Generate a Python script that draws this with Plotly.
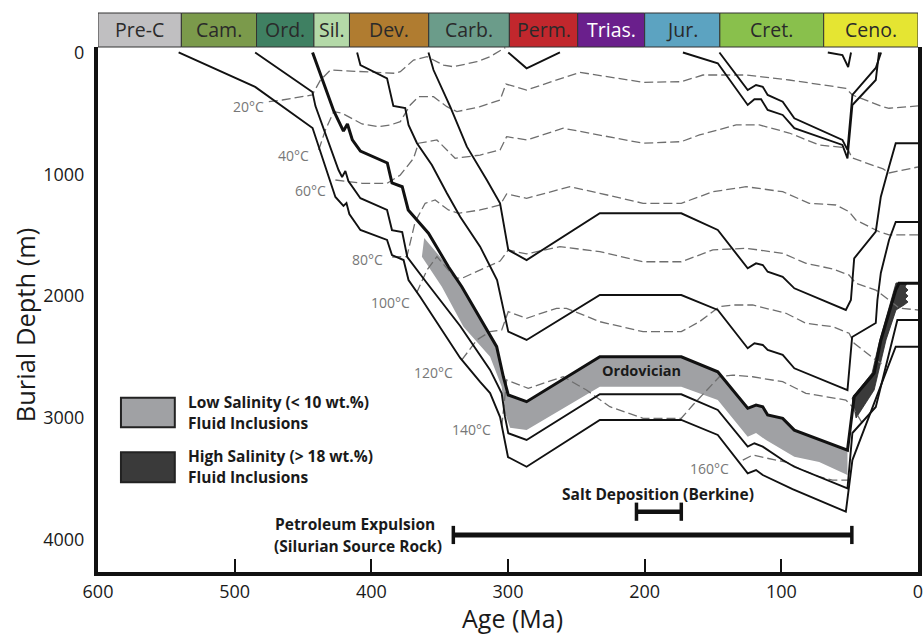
import plotly.graph_objects as go

# ---------------- Data ----------------
PERIOD_NAMES = ["Pre-C", "Cam.", "Ord.", "Sil.", "Dev.", "Carb.", "Perm.", "Trias.", "Jur.", "Cret.", "Ceno."]
PERIOD_BOUNDS = [600, 539, 484, 442, 416, 358, 299, 249, 200, 145, 69, 0]
PERIOD_COLORS = ["#c0bfc1", "#7b9a4b", "#3f8062", "#b4d9a8", "#b07c30", "#6b9c8a",
                 "#c1272d", "#6a1f8c", "#5ca3c1", "#89c04c", "#e5e532"]
PERIOD_TEXT_COLORS = ["#2a2a2a"] * 7 + ["#ffffff"] + ["#2a2a2a"] * 3

X_TICKS = [600, 500, 400, 300, 200, 100, 0]
Y_TICKS = [0, 1000, 2000, 3000, 4000]

# Burial curves (age Ma, depth m)
CAMB_AGE = [541, 485, 443, 426.3, 420.4, 418.2, 416.1, 408, 388.5, 384.9, 376.4, 372.8, 364.2, 352, 348.4,
            335, 320.4, 313.1, 305.8, 302.9, 300, 286.4, 232.8, 173.2, 146.5, 124.6, 118.5, 113.6, 91.8,
            52.8, 48, 16.3, 0]
CAMB_DEPTH = [0, 283, 620, 1186, 1260, 1236, 1326, 1457, 1539, 1663, 1704, 1868, 2007, 2221, 2278,
              2508, 2705, 2796, 2993, 3157, 3321, 3401, 3017, 3017, 3140, 3455, 3428, 3469, 3584,
              3770, 3346, 2416, 2416]

ORDB_AGE = [485, 443.1, 440.9, 424, 421.4, 419, 416.8, 408, 388.5, 384.9, 377.4, 373.7, 359.9, 335,
            313.1, 304.6, 302.2, 299.8, 286.4, 232.8, 173.2, 146.5, 124.6, 119.7, 113.6, 99, 90.5,
            51.6, 48, 30.9, 15.1, 0]
ORDB_DEPTH = [0, 324, 440, 965, 1022, 973, 1055, 1196, 1293, 1458, 1474, 1679, 1884, 2245,
              2606, 2798, 2990, 3126, 3181, 2806, 2806, 2935, 3236, 3208, 3236, 3346, 3401,
              3578, 3124, 2910, 2196, 2196]

ORDT_AGE = [443, 427.5, 420.4, 417.5, 413.9, 408, 388.3, 384.9, 377.4, 373, 358.2, 343.6, 333.8,
            314.4, 308.3, 303.4, 299.8, 286.4, 232.8, 173.2, 146.5, 124.6, 118.5, 113.6, 110, 99,
            90.5, 51.6, 46.7, 32.1, 27.2, 16.3, 13.9, 0]
ORDT_DEPTH = [0, 480, 645, 587, 718, 809, 907, 1071, 1102, 1293, 1484, 1759, 1923,
              2306, 2415, 2662, 2812, 2867, 2498, 2498, 2621, 2921, 2894, 2908, 2976, 3004,
              3100, 3264, 2826, 2634, 2362, 1950, 1895, 1895]

DEV_AGE = [410.4, 408, 388.5, 383.9, 375.2, 372.8, 366.6, 355.7, 344.7, 335, 320.4, 308, 299.8,
           286.4, 232.8, 173.2, 146.5, 124.6, 119.7, 113.6, 110, 99, 90.5, 51.6, 48.2, 30.9, 29.7,
           27.2, 21.2, 16.3, 0]
DEV_DEPTH = [0, 103, 212, 439, 456, 595, 745, 924, 1156, 1348, 1594, 1868, 2292,
             2360, 1991, 1991, 2114, 2428, 2387, 2401, 2442, 2483, 2593, 2771, 2336, 2221, 2032,
             1810, 1539, 1392, 1392]

CARB_AGE = [358.2, 354.5, 342.3, 330.1, 315.5, 305.8, 299.8, 286.4, 232.8, 173.2, 146.5, 124.6,
            118.5, 113.6, 110, 99, 90.5, 52.8, 49.1, 46.7, 30.9, 27.2, 21.2, 16.3, 0]
CARB_DEPTH = [0, 144, 445, 773, 1047, 1238, 1621, 1704, 1320, 1320, 1457, 1772,
              1731, 1745, 1800, 1841, 1936, 2114, 2032, 1690, 1471, 1184, 938, 745, 745]

PERM_AGE = [299.8, 286.4, 262]
PERM_DEPTH = [0, 130, 0]

JUR_AGE = [172, 146.5, 124.6, 119.7, 114.8, 110, 99, 90.5, 55.3, 51.6, 48, 30.9, 28.5]
JUR_DEPTH = [0, 89, 431, 384, 384, 472, 513, 622, 759, 869, 431, 226, 0]

CRET_AGE = [145.3, 124.6, 118.5, 113.6, 110, 99, 90.5, 55.3, 51.6, 48, 30.9, 27]
CRET_DEPTH = [0, 308, 267, 281, 349, 404, 540, 718, 800, 349, 127, 0]

CENO_AGE = [66, 55.3, 51.1, 49]
CENO_DEPTH = [0, 21, 119, 0]

# Isotherms
ISO_20_AGE = [475, 465.2, 443.3, 437.2, 429.9, 406.8, 382.5, 378.8, 369.1, 359.3, 347.2, 339.9, 322.8, 313.1, 302]
ISO_20_DEPTH = [404, 390, 349, 226, 144, 158, 171, 158, 62, 34, 103, 117, 76, 34, -40]

ISO_40_AGE = [438.5, 433.6, 427.5, 421.4, 406.8, 394.7, 386.1, 378.8, 371.5, 365.5, 354.5, 344.7, 337.4,
              320.4, 305.8, 301.5, 286.4, 247.4, 201.2, 173.2, 157.4, 125.8, 94.2, 52.8, 48, 26.1, 21.2, 0]
ISO_40_DEPTH = [800, 636, 486, 499, 587, 609, 595, 568, 431, 363, 363, 445, 486,
                445, 390, 259, 308, 163, 245, 240, 185, 185, 226, 294, 349, 445, 458, 439]

ISO_60_AGE = [426.3, 416.6, 406.8, 388.5, 378.8, 369.1, 365.5, 352, 344.7, 338.7, 320.4, 305.8, 301,
              286.4, 259.6, 232.8, 201.2, 173.2, 159.9, 133.1, 116.1, 94.2, 72.3, 51.8, 48.2, 25.5, 21.2, 0]
ISO_60_DEPTH = [1047, 1061, 1074, 1074, 1006, 869, 745, 718, 800, 869, 842, 800, 691,
                718, 622, 677, 745, 732, 677, 595, 595, 661, 759, 784, 866, 956, 989, 940]

ISO_80_AGE = [384.7, 374, 367.9, 360.6, 353.3, 343.6, 336.3, 320.4, 305.8, 301, 286.4, 254.7, 232.8,
              201.2, 173.2, 150.1, 125.8, 99, 79.6, 60.1, 50.4, 45.5, 28.5, 21.2, 0]
ISO_80_DEPTH = [1679, 1676, 1389, 1238, 1211, 1293, 1320, 1293, 1252, 1162, 1197, 1102, 1156,
                1238, 1238, 1143, 1102, 1143, 1238, 1252, 1307, 1375, 1471, 1498, 1498]

ISO_100_AGE = [366.9, 359.3, 352, 338.7, 333.8, 320.4, 305.8, 299.8, 286.4, 262, 232.8, 201.2, 173.2,
               150.1, 125.8, 99, 81.9, 62.5, 50.4, 45.5, 30.9, 21.2, 13.9, 0]
ISO_100_DEPTH = [1974, 1786, 1676, 1851, 1854, 1786, 1712, 1622, 1654, 1594, 1635, 1718, 1718,
                 1621, 1607, 1649, 1731, 1777, 1827, 1895, 1950, 2032, 2098, 2114]

ISO_120_AGE = [333.8, 322.8, 313.1, 304.6, 299.8, 286.4, 264.5, 257.2, 232.8, 201.2, 173.2, 159.9,
               145.3, 135.5, 121, 96.6, 82, 62.5, 50.4, 46.7, 30.9, 22.6]
ISO_120_DEPTH = [2524, 2360, 2292, 2278, 2128, 2182, 2100, 2100, 2210, 2292, 2292, 2210,
                 2087, 2073, 2073, 2141, 2223, 2251, 2305, 2387, 2525, 2582]

ISO_140_AGE = [304.6, 301, 285.2, 259.6, 242.6, 225.5, 201.2, 173.2, 164.7, 145.3, 135.5, 121, 99,
               82, 52.8, 48, 38.7]
ISO_140_DEPTH = [3072, 2689, 2757, 2662, 2771, 2908, 3003, 3003, 2894, 2662, 2648, 2662, 2703,
                 2798, 2853, 2908, 3083]

ISO_160_AGE = [128.2, 120.9, 111.2, 96.6, 84.5, 72.3, 62.6, 49.9]
ISO_160_DEPTH = [3346, 3305, 3329, 3362, 3428, 3483, 3510, 3510]

ISO_LABELS = ["20°C", "40°C", "60°C", "80°C", "100°C", "120°C", "140°C", "160°C"]
ISO_LABEL_AGE = [489.6, 456.7, 444.5, 403.1, 386.1, 354.5, 326.5, 152.6]
ISO_LABEL_DEPTH = [445, 842, 1135, 1698, 2054, 2629, 3099, 3414]

# Fluid-inclusion bands
LOW_SAL_TOP_AGE = [361.3, 343.6, 333.8, 314.4, 308.3, 303.4, 299.8, 286.4, 232.8, 173.2, 146.5, 124.6,
                   118.5, 113.6, 110, 99, 90.5, 51.6]
LOW_SAL_TOP_DEPTH = [1523, 1759, 1923, 2306, 2415, 2662, 2812, 2867, 2498, 2498, 2621, 2921,
                     2894, 2908, 2976, 3004, 3100, 3264]
LOW_SAL_BOT_AGE = [363, 348.4, 332.6, 313.1, 304.6, 302.2, 298.5, 286.4, 232.8, 173.2, 146.5, 124.6,
                   118.5, 111.2, 90.5, 72.3, 51.6]
LOW_SAL_BOT_DEPTH = [1676, 1923, 2251, 2497, 2744, 2960, 3080, 3099, 2744, 2744, 2853, 3154,
                     3124, 3182, 3319, 3362, 3469]

HIGH_SAL_AGE = [48.2, 33.6, 28.5, 17.5, 16.1, 8, 9.5, 7.3, 9.5, 7.3, 9.5, 7.3, 10.2, 16.1, 23.4, 32.1, 41.6, 45.3]
HIGH_SAL_DEPTH = [2837, 2631, 2385, 1950, 1892, 1892, 1925, 1950, 1974, 1999, 2024, 2048, 2073, 2114,
                  2360, 2771, 2935, 3001]

# Event bars
EXPULSION_AGE = [340, 48.4]
EXPULSION_DEPTH = [3961, 3961]
SALT_AGE = [206, 173.2]
SALT_DEPTH = [3770, 3770]

FONT = "Open Sans, Noto Sans, sans-serif"

fig = go.Figure()

# Low-salinity band
fig.add_trace(go.Scatter(
    x=LOW_SAL_TOP_AGE + LOW_SAL_BOT_AGE[::-1],
    y=LOW_SAL_TOP_DEPTH + LOW_SAL_BOT_DEPTH[::-1],
    fill="toself", fillcolor="#a0a1a4", mode="lines", line=dict(width=0),
    hoverinfo="skip", showlegend=False))
# High-salinity band
fig.add_trace(go.Scatter(
    x=HIGH_SAL_AGE + HIGH_SAL_AGE[:1], y=HIGH_SAL_DEPTH + HIGH_SAL_DEPTH[:1],
    fill="toself", fillcolor="#3a3a3a", mode="lines", line=dict(width=0.8, color="#2a2a2a"),
    hoverinfo="skip", showlegend=False))

# Isotherms
isotherms = [(ISO_20_AGE, ISO_20_DEPTH), (ISO_40_AGE, ISO_40_DEPTH), (ISO_60_AGE, ISO_60_DEPTH),
             (ISO_80_AGE, ISO_80_DEPTH), (ISO_100_AGE, ISO_100_DEPTH), (ISO_120_AGE, ISO_120_DEPTH),
             (ISO_140_AGE, ISO_140_DEPTH), (ISO_160_AGE, ISO_160_DEPTH)]
for ax, dy in isotherms:
    fig.add_trace(go.Scatter(x=ax, y=dy, mode="lines",
                             line=dict(color="#6e6e6e", width=1.3, dash="9px,4px"),
                             hoverinfo="skip", showlegend=False))

# Burial curves
curves = [(CAMB_AGE, CAMB_DEPTH, 1.9), (ORDB_AGE, ORDB_DEPTH, 1.9), (DEV_AGE, DEV_DEPTH, 1.9),
          (CARB_AGE, CARB_DEPTH, 1.9), (PERM_AGE, PERM_DEPTH, 1.9), (JUR_AGE, JUR_DEPTH, 1.9),
          (CRET_AGE, CRET_DEPTH, 1.9), (CENO_AGE, CENO_DEPTH, 1.9), (ORDT_AGE, ORDT_DEPTH, 3.0)]
for ax, dy, w in curves:
    fig.add_trace(go.Scatter(x=ax, y=dy, mode="lines", line=dict(color="#111111", width=w),
                             hoverinfo="skip", showlegend=False))

# Event bars
for ax, dy, w in [(EXPULSION_AGE, EXPULSION_DEPTH, 5), (SALT_AGE, SALT_DEPTH, 4.5)]:
    fig.add_trace(go.Scatter(x=ax, y=dy, mode="lines+markers",
                             line=dict(color="#111111", width=w),
                             marker=dict(symbol="line-ns-open", size=13,
                                         line=dict(color="#111111", width=3.5)),
                             hoverinfo="skip", showlegend=False))

shapes = []
annotations = []
# Period bar
bar_top = 1 + 34 / 525
for i, name in enumerate(PERIOD_NAMES):
    x0, x1 = PERIOD_BOUNDS[i], PERIOD_BOUNDS[i + 1]
    shapes.append(dict(type="rect", xref="x", yref="paper", x0=x0, x1=x1, y0=1, y1=bar_top,
                       fillcolor=PERIOD_COLORS[i], line=dict(color="#333333", width=1), layer="above"))
    annotations.append(dict(x=(x0 + x1) / 2, y=(1 + bar_top) / 2, xref="x", yref="paper",
                            text=name, showarrow=False, xanchor="center", yanchor="middle",
                            font=dict(family=FONT, size=19.5, color=PERIOD_TEXT_COLORS[i])))

# Isotherm labels
for lab, a, d in zip(ISO_LABELS, ISO_LABEL_AGE, ISO_LABEL_DEPTH):
    annotations.append(dict(x=a, y=d, xref="x", yref="y", text=lab, showarrow=False,
                            font=dict(family=FONT, size=14, color="#777777")))

# Text labels
bold = dict(family=FONT, size=15.5, color="#1a1a1a")
annotations += [
    dict(x=202, y=2612, text="<b>Ordovician</b>", showarrow=False,
         font=dict(family=FONT, size=14.5, color="#1a1a1a")),
    dict(x=190, y=3627, text="<b>Salt Deposition (Berkine)</b>", showarrow=False, font=bold),
    dict(x=412, y=3871, text="<b>Petroleum Expulsion</b>", showarrow=False, font=bold),
    dict(x=410, y=4049, text="<b>(Silurian Source Rock)</b>", showarrow=False, font=bold),
    dict(x=535.5, y=2867, text="<b>Low Salinity (&lt; 10 wt.%)</b>", showarrow=False, font=bold, xanchor="left"),
    dict(x=535.5, y=3039, text="<b>Fluid Inclusions</b>", showarrow=False, font=bold, xanchor="left"),
    dict(x=535.5, y=3310, text="<b>High Salinity (&gt; 18 wt.%)</b>", showarrow=False, font=bold, xanchor="left"),
    dict(x=535.5, y=3483, text="<b>Fluid Inclusions</b>", showarrow=False, font=bold, xanchor="left"),
]
for a in annotations:
    a.setdefault("xref", "x")
    a.setdefault("yref", "y")

# Legend boxes
shapes.append(dict(type="rect", xref="x", yref="y", x0=583.2, x1=543.8, y0=2834, y1=3077,
                   fillcolor="#a0a1a4", line=dict(color="#222222", width=2)))
shapes.append(dict(type="rect", xref="x", yref="y", x0=583.2, x1=543.8, y0=3282, y1=3528,
                   fillcolor="#3a3a3a", line=dict(color="#222222", width=2)))

# Axis titles
annotations.append(dict(x=0.506, y=-0.088, xref="paper", yref="paper", text="Age (Ma)",
                        xanchor="center", yanchor="middle",
                        showarrow=False, font=dict(family=FONT, size=25, color="#1a1a1a")))
annotations.append(dict(x=-0.089, y=0.47, xref="paper", yref="paper", text="Burial Depth (m)",
                        xanchor="center", yanchor="middle",
                        textangle=-90, showarrow=False, font=dict(family=FONT, size=25.5, color="#1a1a1a")))

fig.update_layout(
    width=923, height=635,
    margin=dict(l=98, r=5, t=47, b=63),
    paper_bgcolor="white", plot_bgcolor="white",
    showlegend=False,
    shapes=shapes, annotations=annotations,
    xaxis=dict(range=[600, 0], tickvals=X_TICKS, ticktext=[str(v) for v in X_TICKS],
               ticks="inside", ticklen=13, tickwidth=1.5, tickcolor="#111111",
               showline=True, linewidth=4, linecolor="#111111", mirror=False,
               showgrid=False, zeroline=False, automargin=False, ticklabeloverflow="allow",
               tickfont=dict(family=FONT, size=18, color="#1a1a1a")),
    yaxis=dict(range=[4265, -45], tickvals=Y_TICKS, ticktext=[str(v) for v in Y_TICKS],
               ticks="", showline=True, linewidth=4, linecolor="#111111", mirror=True,
               showgrid=False, zeroline=False, ticklabelstandoff=6, automargin=False,
               tickfont=dict(family=FONT, size=18, color="#1a1a1a")),
)

fig.write_html("out.html", config={"displayModeBar": False},
               post_script="document.body.style.margin='0';document.body.style.overflow='hidden';")
